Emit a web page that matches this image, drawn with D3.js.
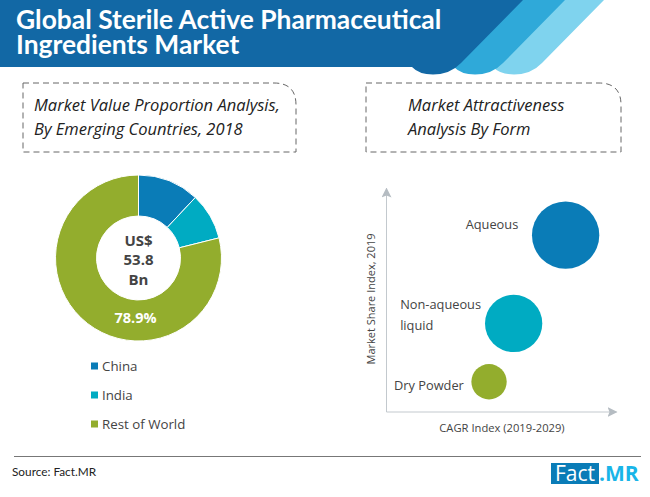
<!DOCTYPE html>
<html>
<head>
<meta charset="utf-8">
<script src="https://cdn.jsdelivr.net/npm/d3@7"></script>
<style>
  html, body { margin: 0; padding: 0; background: #fff; }
  svg { display: block; }
  text { font-family: "Open Sans", sans-serif; }
</style>
</head>
<body>
<div id="chart"></div>
<script>
// data
const titleLines = ["Global Sterile Active Pharmaceutical", "Ingredients Market"];
const donutHeading = ["Market Value Proportion Analysis,", "By Emerging Countries, 2018"];
const bubbleHeading = ["Market Attractiveness", "Analysis By Form"];

const regions = ["China", "India", "Rest of World"];
const regionShare = [12.0, 9.1, 78.9];
const regionColors = ["#0a7cb7", "#00abc2", "#93ad2d"];
const centerLabel = ["US$", "53.8", "Bn"];

const forms = [["Aqueous"], ["Non-aqueous", "liquid"], ["Dry Powder"]];
const cagrIndex = [78.1, 55.5, 44.8];
const shareIndex = [78.9, 39.4, 13.3];
const bubbleSize = [98, 71, 27];
const formColors = ["#0a7cb7", "#00abc2", "#93ad2d"];

const svg = d3.select("#chart").append("svg")
  .attr("width", 650)
  .attr("height", 497);

// header: three tabs, back to front
function tabPath(topX, leftX) {
  const p = d3.path();
  p.moveTo(leftX, 0);
  p.lineTo(topX, 0);
  p.lineTo(topX - 62, 63);
  p.quadraticCurveTo(topX - 73, 74.5, topX - 90, 74.5);
  p.quadraticCurveTo(topX - 104, 74.5, topX - 111, 67);
  p.lineTo(leftX, 67);
  p.closePath();
  return p.toString();
}
const header = svg.append("g");
header.append("path").attr("d", tabPath(604, 400)).attr("fill", "#7fd3ee");
header.append("path").attr("d", tabPath(565, 400)).attr("fill", "#2fa9d9");
header.append("path").attr("d", tabPath(523, 0)).attr("fill", "#1268a5");
header.append("text")
  .attr("fill", "#fff")
  .style("font-family", "Lato, sans-serif")
  .style("font-weight", 700)
  .style("font-size", "26.4px")
  .selectAll("tspan")
  .data(titleLines)
  .join("tspan")
  .attr("x", 16)
  .attr("y", (d, i) => 29 + i * 25)
  .text(d => d);

// dashed heading boxes with one rounded corner
function headingBox(x0, x1, textX, lines) {
  const p = d3.path();
  p.moveTo(x0, 83);
  p.lineTo(x1 - 22, 83);
  p.quadraticCurveTo(x1, 83, x1, 105);
  p.lineTo(x1, 152);
  p.lineTo(x0, 152);
  p.closePath();
  svg.append("path")
    .attr("d", p.toString())
    .attr("fill", "none")
    .attr("stroke", "#666")
    .attr("stroke-width", 1)
    .attr("stroke-dasharray", "6,4");
  svg.selectAll(null)
    .data(lines)
    .join("text")
    .attr("x", textX)
    .attr("y", (d, i) => 111 + i * 24)
    .attr("fill", "#222")
    .style("font-style", "italic")
    .style("font-size", "16.5px")
    .text(d => d);
}
headingBox(23, 296, 34, donutHeading);
headingBox(366, 621, 408, bubbleHeading);

// donut
const pie = d3.pie().sort(null).value(d => d);
const arc = d3.arc().innerRadius(42).outerRadius(83);
const donut = svg.append("g").attr("transform", "translate(138.5,258)");
donut.selectAll("path")
  .data(pie(regionShare))
  .join("path")
  .attr("d", arc)
  .attr("fill", (d, i) => regionColors[i])
  .attr("stroke", "#fff")
  .attr("stroke-width", 1);
donut.append("text")
  .attr("text-anchor", "middle")
  .attr("fill", "#444")
  .style("font-weight", 700)
  .style("font-size", "15px")
  .selectAll("tspan")
  .data(centerLabel)
  .join("tspan")
  .attr("x", 0)
  .attr("y", (d, i) => -12 + i * 19.3)
  .text(d => d);
donut.append("text")
  .attr("x", -3)
  .attr("y", 65)
  .attr("text-anchor", "middle")
  .attr("fill", "#fff")
  .style("font-weight", 700)
  .style("font-size", "14.5px")
  .text(regionShare[2].toFixed(1) + "%");

// donut legend
const legend = svg.selectAll("g.legend")
  .data(regions)
  .join("g")
  .attr("class", "legend")
  .attr("transform", (d, i) => `translate(91,${366 + i * 29})`);
legend.append("rect")
  .attr("y", -3.5)
  .attr("width", 7)
  .attr("height", 7)
  .attr("fill", (d, i) => regionColors[i]);
legend.append("text")
  .attr("x", 11)
  .attr("y", 5)
  .attr("fill", "#444")
  .style("font-size", "13.3px")
  .text(d => d);

// bubble chart
const x = d3.scaleLinear().domain([0, 100]).range([386, 616]);
const y = d3.scaleLinear().domain([0, 100]).range([411.5, 188]);
const r = d3.scaleSqrt().domain([0, 100]).range([0, 34]);

svg.append("defs").append("marker")
  .attr("id", "arrow")
  .attr("viewBox", "0 0 10 10")
  .attr("refX", 9)
  .attr("refY", 5)
  .attr("markerWidth", 10)
  .attr("markerHeight", 10)
  .attr("markerUnits", "userSpaceOnUse")
  .attr("orient", "auto")
  .append("path")
  .attr("d", "M0,0L10,5L0,10L2,5Z")
  .attr("fill", "#b5bcc2");

const xAxis = svg.append("g")
  .attr("transform", "translate(0,411.5)")
  .call(d3.axisBottom(x).tickValues([]).tickSizeOuter(0));
const yAxis = svg.append("g")
  .attr("transform", "translate(386,0)")
  .call(d3.axisLeft(y).tickValues([]).tickSizeOuter(0));
[xAxis, yAxis].forEach(g => {
  g.select(".domain")
    .attr("stroke", "#c3c9ce")
    .attr("stroke-width", 1)
    .attr("marker-end", "url(#arrow)");
});

svg.selectAll("circle.bubble")
  .data(forms)
  .join("circle")
  .attr("class", "bubble")
  .attr("cx", (d, i) => x(cagrIndex[i]))
  .attr("cy", (d, i) => y(shareIndex[i]))
  .attr("r", (d, i) => r(bubbleSize[i]))
  .attr("fill", (d, i) => formColors[i]);

// label offsets from the bubble centre
const labelOffset = [[-100, -6], [-113.5, -14], [-95, 8]];
forms.forEach((lines, i) => {
  svg.selectAll(null)
    .data(lines)
    .join("text")
    .attr("x", x(cagrIndex[i]) + labelOffset[i][0])
    .attr("y", (d, j) => y(shareIndex[i]) + labelOffset[i][1] + j * 21)
    .attr("fill", "#444")
    .style("font-size", "12.8px")
    .text(d => d);
});

svg.append("text")
  .attr("x", 502)
  .attr("y", 432)
  .attr("text-anchor", "middle")
  .attr("fill", "#444")
  .style("font-size", "11.2px")
  .text("CAGR Index (2019-2029)");
svg.append("text")
  .attr("transform", "translate(375,299) rotate(-90)")
  .attr("text-anchor", "middle")
  .attr("fill", "#444")
  .style("font-size", "11px")
  .text("Market Share Index, 2019");

// footer
svg.append("line")
  .attr("x1", 14)
  .attr("x2", 641)
  .attr("y1", 456.5)
  .attr("y2", 456.5)
  .attr("stroke", "#777")
  .attr("stroke-width", 1);
svg.append("text")
  .attr("x", 12)
  .attr("y", 476)
  .attr("fill", "#222")
  .style("font-family", "Lato, sans-serif")
  .style("font-size", "11.8px")
  .text("Source: Fact.MR");
svg.append("rect")
  .attr("x", 551)
  .attr("y", 463)
  .attr("width", 48)
  .attr("height", 21)
  .attr("fill", "#0a7cb7");
svg.append("text")
  .attr("x", 575)
  .attr("y", 481)
  .attr("text-anchor", "middle")
  .attr("fill", "#fff")
  .style("font-size", "21px")
  .text("Fact");
svg.append("text")
  .attr("x", 599)
  .attr("y", 481)
  .attr("fill", "#19b5e8")
  .style("font-weight", 700)
  .style("font-size", "21px")
  .text(".MR");
</script>
</body>
</html>
